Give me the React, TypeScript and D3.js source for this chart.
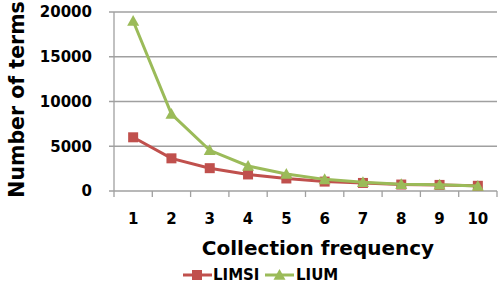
import React from 'react';
import { scaleBand, scaleLinear, line } from 'd3';

const categories = ['1', '2', '3', '4', '5', '6', '7', '8', '9', '10'];
const limsi = [6000, 3650, 2550, 1850, 1400, 1050, 900, 720, 680, 580];
const lium = [19000, 8600, 4550, 2800, 1900, 1300, 970, 750, 700, 560];
const yTicks = [0, 5000, 10000, 15000, 20000];

const width = 498;
const height = 283;
const font = '"DejaVu Sans", Verdana, sans-serif';
const red = '#C0504D';
const green = '#9BBB59';
const grid = '#a0a0a0';

const App = () => {
  const left = 114;
  const right = 497;
  const top = 12;
  const bottom = 191;

  const x = scaleBand().domain(categories).range([left, right]);
  const y = scaleLinear().domain([0, 20000]).range([bottom, top]);
  const cx = (c: string) => (x(c) as number) + x.bandwidth() / 2;

  const path = line<number>()
    .x((d, i) => cx(categories[i]))
    .y(d => y(d));

  const tri = (px: number, py: number, s: number) =>
    `M${px},${py - s}L${px + s},${py + s * 0.8}L${px - s},${py + s * 0.8}Z`;

  return (
    <svg width={width} height={height}
      style={{ position: 'absolute', left: 0, top: 0, background: '#fff', fontFamily: font }}>
      {/* gridlines */}
      {yTicks.map(t => (
        <line key={t} x1={left - 5} x2={right} y1={y(t)} y2={y(t)} stroke={grid} strokeWidth={1.3} />
      ))}
      <line x1={left} x2={left} y1={top} y2={bottom} stroke={grid} strokeWidth={1.3} />
      {categories.map(c => (
        <line key={c} x1={x(c)} x2={x(c)} y1={bottom} y2={bottom + 6} stroke={grid} strokeWidth={1.3} />
      ))}
      <line x1={right} x2={right} y1={bottom} y2={bottom + 6} stroke={grid} strokeWidth={1.3} />

      {/* y tick labels */}
      {yTicks.map(t => (
        <text key={t} x={92} y={y(t)} dy="0.36em" textAnchor="end" fontSize={15} fontWeight="bold">{t}</text>
      ))}
      {/* x tick labels */}
      {categories.map(c => (
        <text key={c} x={cx(c)} y={224} textAnchor="middle" fontSize={15} fontWeight="bold">{c}</text>
      ))}

      {/* axis titles */}
      <text x={318} y={255} textAnchor="middle" fontSize={20} fontWeight="bold">Collection frequency</text>
      <text transform={`translate(24,${(top + bottom) / 2 - 2}) rotate(-90)`} textAnchor="middle"
        fontSize={20.5} fontWeight="bold">Number of terms</text>

      {/* series */}
      <path d={path(limsi) as string} fill="none" stroke={red} strokeWidth={3} />
      {limsi.map((v, i) => (
        <rect key={i} x={cx(categories[i]) - 5} y={y(v) - 5} width={10} height={10} fill={red} />
      ))}
      <path d={path(lium) as string} fill="none" stroke={green} strokeWidth={3} />
      {lium.map((v, i) => (
        <path key={i} d={tri(cx(categories[i]), y(v), 6)} fill={green} />
      ))}

      {/* legend */}
      <line x1={183} x2={212} y1={275} y2={275} stroke={red} strokeWidth={3} />
      <rect x={192} y={270} width={10} height={10} fill={red} />
      <text x={213} y={280} fontSize={15} fontWeight="bold">LIMSI</text>
      <line x1={265} x2={294} y1={275} y2={275} stroke={green} strokeWidth={3} />
      <path d={tri(279.5, 275, 6)} fill={green} />
      <text x={296} y={280} fontSize={15} fontWeight="bold">LIUM</text>
    </svg>
  );
};

export default App;
